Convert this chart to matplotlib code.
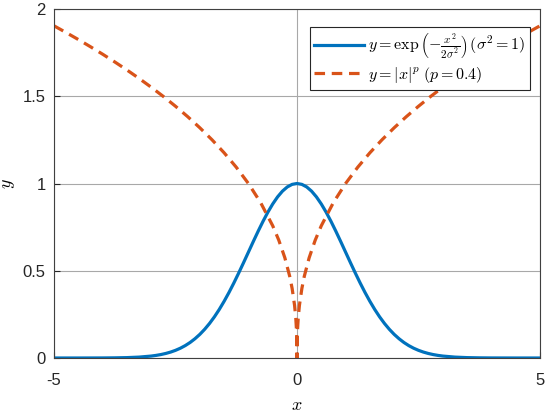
import matplotlib
matplotlib.use("Agg")
import matplotlib.pyplot as plt

# values
x_gauss = [-5, -4.5, -4, -3.75, -3.5, -3.25, -3, -2.9, -2.8, -2.7, -2.6, -2.5, -2.4, -2.3, -2.2, -2.1,
           -2, -1.9, -1.8, -1.7, -1.6, -1.5, -1.4, -1.3, -1.2, -1.1, -1, -0.9, -0.8, -0.7, -0.6,
           -0.5, -0.4, -0.3, -0.2, -0.1, 0, 0.1, 0.2, 0.3, 0.4, 0.5, 0.6, 0.7, 0.8, 0.9, 1, 1.1,
           1.2, 1.3, 1.4, 1.5, 1.6, 1.7, 1.8, 1.9, 2, 2.1, 2.2, 2.3, 2.4, 2.5, 2.6, 2.7, 2.8, 2.9,
           3, 3.25, 3.5, 3.75, 4, 4.5, 5]
y_gauss = [0.0, 0.0, 0.0003, 0.0009, 0.0022, 0.0051, 0.0111, 0.0149, 0.0198, 0.0261, 0.0340, 0.0439,
           0.0561, 0.0710, 0.0889, 0.1103, 0.1353, 0.1645, 0.1979, 0.2357, 0.2780, 0.3247, 0.3753,
           0.4296, 0.4868, 0.5461, 0.6065, 0.6670, 0.7261, 0.7827, 0.8353, 0.8825, 0.9231, 0.9560,
           0.9802, 0.9950, 1.0, 0.9950, 0.9802, 0.9560, 0.9231, 0.8825, 0.8353, 0.7827, 0.7261,
           0.6670, 0.6065, 0.5461, 0.4868, 0.4296, 0.3753, 0.3247, 0.2780, 0.2357, 0.1979, 0.1645,
           0.1353, 0.1103, 0.0889, 0.0710, 0.0561, 0.0439, 0.0340, 0.0261, 0.0198, 0.0149, 0.0111,
           0.0051, 0.0022, 0.0009, 0.0003, 0.0, 0.0]

x_pow = [-5, -4.75, -4.5, -4.25, -4, -3.75, -3.5, -3.25, -3, -2.75, -2.5, -2.25, -2, -1.75, -1.5,
         -1.25, -1, -0.75, -0.5, -0.375, -0.25, -0.15, -0.1, -0.05, -0.025, -0.01, -0.001, 0,
         0.001, 0.01, 0.025, 0.05, 0.1, 0.15, 0.25, 0.375, 0.5, 0.75, 1, 1.25, 1.5, 1.75, 2, 2.25,
         2.5, 2.75, 3, 3.25, 3.5, 3.75, 4, 4.25, 4.5, 4.75, 5]
y_pow = [1.9037, 1.8649, 1.8251, 1.7838, 1.7411, 1.6967, 1.6506, 1.6023, 1.5518, 1.4988, 1.4427,
         1.3832, 1.3195, 1.2509, 1.1761, 1.0934, 1.0, 0.8913, 0.7579, 0.6755, 0.5743, 0.4682,
         0.3981, 0.3017, 0.2286, 0.1585, 0.0631, 0.0, 0.0631, 0.1585, 0.2286, 0.3017, 0.3981,
         0.4682, 0.5743, 0.6755, 0.7579, 0.8913, 1.0, 1.0934, 1.1761, 1.2509, 1.3195, 1.3832,
         1.4427, 1.4988, 1.5518, 1.6023, 1.6506, 1.6967, 1.7411, 1.7838, 1.8251, 1.8649, 1.9037]

xticks = [-5, 0, 5]
yticks = [0, 0.5, 1, 1.5, 2]

plt.rcParams['font.family'] = ['Liberation Sans', 'DejaVu Sans']
plt.rcParams['mathtext.fontset'] = 'cm'

fig = plt.figure(figsize=(5.5, 4.17), dpi=100)
ax = fig.add_axes([54 / 550, 1 - 358 / 417, 486 / 550, 349 / 417])

ax.plot(x_gauss, y_gauss, color='#0072BD', lw=2.3,
        label=r'$y=\exp\left(-\frac{x^2}{2\sigma^2}\right)\,(\sigma^2=1)$')
ax.plot(x_pow, y_pow, color='#D95319', lw=2.3, dashes=[3.3, 2.1],
        label=r'$y=|x|^p\;(p=0.4)$')

ax.set_xlim(-5, 5)
ax.set_ylim(0, 2)
ax.set_xticks(xticks)
ax.set_xticklabels(['-5', '0', '5'])
ax.set_yticks(yticks)
ax.set_yticklabels(['0', '0.5', '1', '1.5', '2'])
ax.tick_params(direction='in', length=4, labelsize=12, colors='#262626')
ax.tick_params(axis='x', pad=11)
ax.tick_params(axis='y', pad=6)
ax.grid(True, color='#a8a8a8', lw=0.8)
ax.set_axisbelow(True)
for s in ax.spines.values():
    s.set_color('#404040')
    s.set_linewidth(0.8)

ax.set_xlabel('$x$', fontsize=13, labelpad=6)
ax.set_ylabel('$y$', fontsize=13)

leg = ax.legend(loc='upper right', bbox_to_anchor=(530 / 550, 1 - 27 / 417),
                bbox_transform=fig.transFigure, borderaxespad=0,
                fontsize=11.5, fancybox=False, framealpha=1, edgecolor='#262626',
                handlelength=3.1, handletextpad=0.25, borderpad=0.3, labelspacing=0.25)
leg.get_frame().set_linewidth(0.8)

plt.savefig('out.png', dpi=100)
